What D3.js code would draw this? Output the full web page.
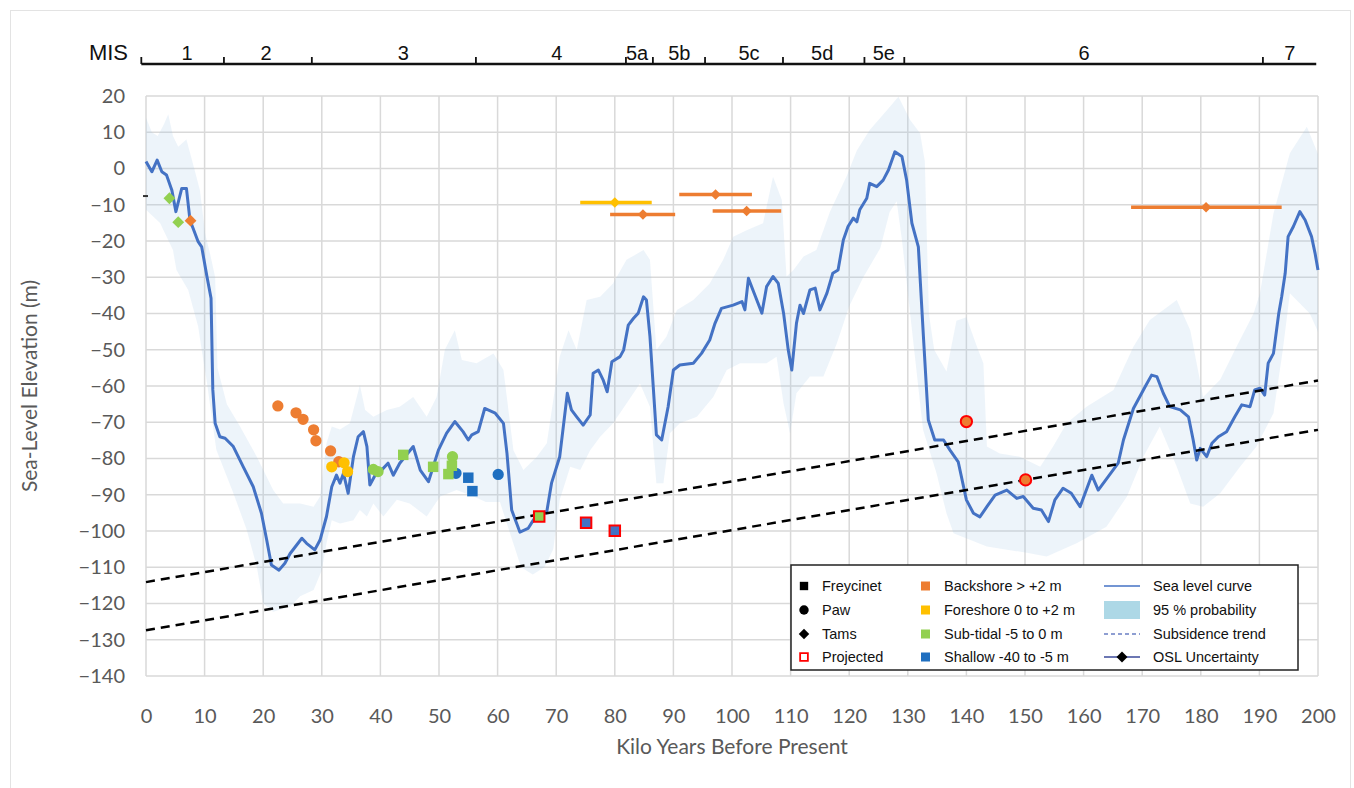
<!DOCTYPE html>
<html>
  <head>
    <meta charset="utf-8">
    <title>Sea-level curve</title>
    <style>
      body { margin: 0; background: #fff; }
      .tick text { font-family: Lato, 'Open Sans', sans-serif; font-size: 20px; fill: #595959; }
      .axis-title { font-family: Lato, 'Open Sans', sans-serif; font-size: 21px; fill: #595959; }
      .mis text, .legend text { font-family: 'Liberation Sans', Arial, sans-serif; fill: #111; }
    </style>
  </head>
  <body>
    <div class="chart"></div>
    <script src="https://cdnjs.cloudflare.com/ajax/libs/d3/7.8.5/d3.min.js"></script>
    <script>
      // ---- data (kyr BP, metres) ----
      var xTicks = d3.range(0, 201, 10);
      var yTicks = d3.range(-140, 21, 10);

      var misBounds = [-0.8, 13.3, 28.3, 56.3, 81.9, 86.5, 95.4, 108.7, 122.6, 129.4, 190.6];
      var misNames = ['1', '2', '3', '4', '5a', '5b', '5c', '5d', '5e', '6', '7'];
      var misLabelAt = [7.0, 20.5, 43.9, 70.1, 83.8, 91.0, 102.9, 115.4, 125.9, 160.1, 195.2];

      var seaLevel = [
        [0,1.9],[1,-0.9],[1.9,2.3],[2.7,-0.9],[3.5,-1.8],[4.4,-5.9],[5.1,-11.9],[6.1,-5.5],[6.9,-5.5],
        [7.5,-14.2],[8.9,-20.2],[9.5,-21.6],[10.4,-29.8],[11.1,-35.8],[11.4,-61],[11.8,-70.3],[12.6,-74],
        [13.5,-74.4],[14.9,-76.7],[16.6,-82.3],[18.3,-87.8],[19.7,-95.1],[20.6,-102.5],[21.4,-109.4],
        [22.7,-110.8],[23.7,-108.9],[24.6,-106.2],[26.6,-102],[27.4,-103.4],[28.8,-105.2],[29.7,-102.5],
        [30.8,-96],[31.7,-87.8],[32.5,-84.6],[33.1,-86.8],[33.7,-84.1],[34.5,-89.6],[35.4,-79.5],[36.2,-74],
        [37.1,-72.6],[37.7,-76.7],[38.2,-87.3],[39.1,-84.6],[40.2,-83.2],[41.3,-81.3],[42.2,-84.6],
        [43.3,-81.3],[45.6,-76.7],[46.8,-83.2],[48.2,-86.4],[49.9,-77.7],[51.3,-73],[52.7,-69.8],
        [54.1,-72.6],[55,-74.9],[55.6,-73.5],[56.7,-72.6],[57.8,-66.2],[59.6,-67.5],[61,-70.3],[61.6,-78.6],
        [62.4,-94.2],[63.8,-100.3],[65.2,-99.3],[66.1,-97],[66.7,-95.6],[68.4,-94.6],[69.2,-86.8],
        [70.6,-79.5],[71.9,-62],[72.6,-66.6],[73.5,-68.5],[74.6,-70.8],[75.8,-68],[76.3,-56.5],[77.2,-55.6],
        [78,-58.3],[78.7,-61.6],[79.5,-53.3],[80.9,-51.9],[81.5,-50.1],[82.3,-43.2],[83.2,-41.3],[84,-39.9],
        [84.9,-35.4],[85.4,-36.3],[86,-46.4],[87.1,-73.5],[88,-74.9],[89.1,-65.7],[90,-55.6],[91.1,-54.2],
        [93.4,-53.7],[94.8,-51],[96.2,-47.3],[97.1,-42.7],[98.2,-38.6],[100.2,-37.7],[101.7,-36.7],
        [102.2,-39],[102.8,-30.3],[103.9,-34.9],[105.1,-39.9],[105.9,-32.6],[107,-29.8],[107.9,-31.7],
        [108.8,-39.9],[109.6,-50.1],[110.2,-55.6],[111,-42.7],[111.6,-37.7],[112.2,-40],[113.3,-33.5],
        [114.2,-33],[115,-39],[116.2,-34.4],[117.2,-28.9],[118.1,-28],[119,-19.7],[119.8,-16],[120.7,-13.7],
        [121.3,-14.7],[121.8,-11.4],[123,-8.2],[123.5,-4.1],[124.7,-5],[125.8,-3.2],[126.7,-0.4],[127.8,4.6],
        [129,3.3],[129.8,-3.2],[130.7,-15.1],[131.8,-21.6],[132.7,-47.3],[133.5,-69.4],[134.6,-74.9],
        [136.1,-74.9],[137.2,-77.7],[138.6,-80.9],[140,-91.4],[141.2,-95.1],[142.3,-96.1],[143.5,-93.3],
        [144.9,-90.1],[146.9,-88.7],[148.6,-91],[149.7,-90.5],[151.4,-93.7],[152.8,-94.2],[154,-97.4],
        [155.1,-91.4],[156.5,-88.2],[157.9,-89.6],[159.4,-93.3],[161.4,-84.6],[162.5,-88.7],[164.2,-85],
        [165.9,-81.3],[166.8,-74.9],[168.5,-66.2],[170.5,-60.2],[171.6,-57],[172.5,-57.4],[173.6,-62],
        [174.7,-65.7],[176.5,-66.6],[177.9,-68.5],[178.7,-74.9],[179.3,-80.4],[179.9,-77.2],[181,-79.5],
        [181.9,-75.8],[183,-74],[184.4,-72.6],[185.8,-68.5],[187,-65.2],[188.4,-65.7],[189.2,-61.1],
        [190.1,-60.6],[190.9,-62.5],[191.5,-53.7],[192.4,-51],[193.3,-40],[193.8,-35.4],[194.4,-28.9],
        [194.9,-18.8],[195.8,-16],[196.9,-11.9],[197.8,-14.2],[198.9,-18.8],[199.5,-23.4],[200,-28]
      ];

      var bandUpper = [
        [0,14],[1,10],[2,9],[3,12],[3.8,15],[4.6,9],[5.5,6],[6.9,8],[8.4,-1],[9.2,-6],[10.1,-18],[11,-24],
        [11.8,-30],[12.2,-55],[13.8,-65],[16,-71],[18.9,-79.5],[21.7,-88.7],[23.4,-92.4],[26.3,-92.4],
        [28.6,-93.3],[29.7,-90.5],[30.8,-75.8],[31.7,-71.2],[33.1,-72],[34.8,-70.3],[36.5,-59.7],
        [37.4,-66.6],[38.8,-68.5],[41.1,-66.6],[43.3,-65.7],[45.6,-63],[47.9,-68.5],[49.6,-63],[51,-50],
        [52.7,-44.6],[53.9,-52.8],[56.4,-53.7],[59.3,-51],[61,-55.6],[62.7,-77.7],[64.4,-83.2],[66.7,-79.5],
        [68.4,-75.8],[70.6,-51.9],[72.1,-44.6],[73.5,-50.1],[75.2,-36.3],[77.5,-35.4],[79.7,-31.7],
        [82,-25.2],[84.9,-22.5],[86,-25.2],[87.1,-50.1],[88.8,-46.4],[90.6,-39],[93.4,-36.3],[96.2,-31.7],
        [98.5,-25.2],[100.2,-18.8],[102.5,-17],[105.3,-15.1],[107,-2.3],[108.5,-8.7],[109.3,-29.8],
        [110.5,-28],[112.2,-24.3],[114.4,-22.5],[116.7,-12],[119.6,-2],[121.3,5],[123.5,10.6],[126.4,16],
        [128.4,19.8],[130.4,13.4],[132.1,9.7],[132.9,2],[133.6,-40],[134.5,-50],[136.6,-56],[138.3,-42],
        [140,-41],[141.8,-49.2],[142.9,-53.7],[143.5,-76.7],[145.7,-78.6],[149.1,-79.5],[152.6,-82.3],
        [154.8,-76.7],[157.1,-70.3],[160.5,-65.7],[165.1,-61.1],[168.5,-49.2],[171.3,-41.8],[175.9,-36.3],
        [178.2,-44.6],[180.4,-63],[183.3,-58.3],[186.1,-49.2],[189,-40],[190.1,-34.4],[192.4,-12.4],
        [195.2,4.2],[198.1,11.5],[200,4]
      ];

      var bandLower = [
        [0,-11.4],[2.4,-15],[4.6,-22.5],[5.2,-28],[7.2,-33.5],[8.9,-43.6],[9.5,-50],[10.4,-59],[12,-77.6],
        [14.9,-89.5],[17.2,-99.7],[18.9,-109.8],[20,-120],[21.7,-122.3],[24.6,-120.9],[26.3,-118],
        [28.6,-116.3],[30,-110.8],[30.8,-103.4],[31.7,-97],[33.1,-97.9],[35.4,-97],[36.5,-94.2],[37.7,-96],
        [38.8,-92.4],[40.5,-96],[42.8,-91.4],[45,-92.4],[47.9,-96],[50.2,-90.5],[53,-88.7],[55.9,-90.5],
        [58,-92],[60.4,-92],[62,-100],[64,-110],[66,-112],[68,-110],[69.5,-105],[70.6,-91.4],[72.4,-82.3],
        [74.1,-83.2],[75.8,-77.7],[77.5,-74],[79.7,-70.3],[82,-64.8],[84.3,-59.3],[86,-65.7],[87.1,-86.8],
        [88.3,-86.8],[89.4,-73],[91.1,-70.3],[94,-68.5],[96.8,-63],[99.1,-55.6],[101.4,-53.7],[105.9,-53.7],
        [107.6,-51.9],[108.8,-64.8],[109.9,-73],[111,-62],[113.3,-57.4],[115.6,-57.4],[117.9,-48.2],
        [120,-38],[122.4,-30],[125.3,-22],[126.9,-12],[128.1,-9],[129,-19.7],[130.4,-40],[132.6,-72.1],
        [134.9,-84.1],[136.6,-95.1],[137.8,-100.6],[143.5,-104.3],[150.3,-106],[153.7,-107],[158.8,-103.4],
        [163.9,-98.8],[167.4,-90.5],[170.2,-79.5],[173,-71.2],[175.9,-82.3],[178.2,-92.4],[180.4,-93.3],
        [183.3,-89.6],[186.7,-82.3],[189.5,-76.7],[192.4,-67.5],[194,-50],[195.2,-34.4],[198.6,-40],[200,-45]
      ];

      // subsidence trends, [kyr, m] end points
      var trendUpper = [[0, -114.1], [200, -58.5]];
      var trendLower = [[0, -127.4], [200, -72.1]];

      // Paw (circles)
      var pawBackshore = [[22.5,-65.5],[25.6,-67.4],[26.8,-69.2],[28.6,-72.1],[29,-75.1],[31.5,-77.9],[32.9,-80.9]];
      var pawForeshore = [[31.7,-82.3],[33.8,-81.2],[34.4,-83.6]];
      var pawShallow = [[52.9,-84.1],[60.1,-84.4]];
      var pawSubtidal = [[38.8,-83],[39.6,-83.6],[52.3,-79.5]];
      var pawProjected = [[140,-69.8],[150.1,-85.9]];
      // Freycinet (squares)
      var freySubtidal = [[43.9,-79],[49,-82.3],[51.6,-84.3],[52.2,-82]];
      var freyShallow = [[55,-85.3],[55.7,-89]];
      var freyProjSubtidal = [[67.1,-96]];
      var freyProjShallow = [[75.1,-97.7],[80,-99.9]];
      // Tams (diamonds)
      var tamsSubtidal = [[4,-8.2],[5.5,-14.8]];
      var tamsBackshore = [[7.6,-14.4]];

      // OSL ages with uncertainty: [from, to, age, m]
      var oslForeshore = [[74.1, 86.3, 80, -9.4]];
      var oslBackshore = [[79.2, 90.3, 84.8, -12.7], [91, 103.4, 97.2, -7.2], [96.7, 108.4, 102.5, -11.7], [168.1, 193.8, 180.9, -10.7]];

      var colors = {backshore: '#ed7d31', foreshore: '#ffc000', subtidal: '#92d050', shallow: '#1f6fc0',
                    curve: '#4472c4', projected: '#ff0000'};

      // ---- layout ----
      var W = 1354, H = 788;
      var x = d3.scaleLinear().domain([0, 200]).range([146, 1318]);
      var y = d3.scaleLinear().domain([-140, 20]).range([676, 96]);

      var svg = d3.select('.chart').append('svg')
        .attr('width', W).attr('height', H);

      svg.append('rect')
        .attr('x', 10.5).attr('y', 10.5).attr('width', W - 14).attr('height', H)
        .attr('fill', 'none').attr('stroke', '#e3e3e3');

      // grid
      var grid = svg.append('g').attr('class', 'grid');
      grid.selectAll('.vg').data(xTicks).enter().append('line')
        .attr('x1', function(d) { return x(d); }).attr('x2', function(d) { return x(d); })
        .attr('y1', y(20)).attr('y2', y(-140))
        .attr('stroke', '#d9d9d9').attr('stroke-width', 1.5);
      grid.selectAll('.hg').data(yTicks).enter().append('line')
        .attr('y1', function(d) { return y(d); }).attr('y2', function(d) { return y(d); })
        .attr('x1', x(0)).attr('x2', x(200))
        .attr('stroke', '#d9d9d9').attr('stroke-width', 1.5);

      var line = d3.line()
        .x(function(d) { return x(d[0]); })
        .y(function(d) { return y(d[1]); });

      // 95 % band
      svg.append('path')
        .attr('d', line(bandUpper.concat(bandLower.slice().reverse())) + 'Z')
        .attr('fill', '#9dc3e6').attr('fill-opacity', 0.19);

      // sea-level curve
      svg.append('path')
        .attr('d', line(seaLevel))
        .attr('fill', 'none').attr('stroke', colors.curve)
        .attr('stroke-width', 3).attr('stroke-linejoin', 'round');

      // subsidence trends
      svg.selectAll('.trend').data([trendUpper, trendLower]).enter().append('path')
        .attr('d', line)
        .attr('fill', 'none').attr('stroke', '#000')
        .attr('stroke-width', 2.5).attr('stroke-dasharray', '9,6');

      // axes
      var yAxis = d3.axisLeft(y).tickValues(yTicks).tickSize(0).tickPadding(21);
      svg.append('g').attr('transform', 'translate(' + x(0) + ',0)').call(yAxis)
        .call(function(g) { g.select('.domain').remove(); });

      var xAxis = d3.axisBottom(x).tickValues(xTicks).tickSize(0).tickPadding(33);
      svg.append('g').attr('transform', 'translate(0,' + y(-140) + ')').call(xAxis)
        .call(function(g) { g.select('.domain').remove(); });

      svg.append('text').attr('class', 'axis-title')
        .attr('x', (x(0) + x(200)) / 2).attr('y', 754)
        .attr('text-anchor', 'middle').text('Kilo Years Before Present');
      svg.append('text').attr('class', 'axis-title')
        .attr('transform', 'translate(37,' + (y(20) + y(-140)) / 2 + ') rotate(-90)')
        .attr('text-anchor', 'middle').text('Sea-Level Elevation (m)');

      // symbols
      var circle = d3.symbol().type(d3.symbolCircle).size(100);
      var square = d3.symbol().type(d3.symbolSquare).size(110);
      var diamond = d3.symbol().type(d3.symbolSquare).size(70);

      function drawPoints(data, sym, fill, rot, stroke) {
        svg.append('g').selectAll('path').data(data).enter().append('path')
          .attr('d', sym)
          .attr('transform', function(d) {
            return 'translate(' + x(d[0]) + ',' + y(d[1]) + ')' + (rot ? ' rotate(45)' : '');
          })
          .attr('fill', fill)
          .attr('stroke', stroke || 'none')
          .attr('stroke-width', stroke ? 2 : 0);
      }

      drawPoints(pawShallow, circle, colors.shallow);
      drawPoints(pawBackshore, circle, colors.backshore);
      drawPoints(pawForeshore, circle, colors.foreshore);
      drawPoints(pawSubtidal, circle, colors.subtidal);
      drawPoints(freySubtidal, square, colors.subtidal);
      drawPoints(freyShallow, square, colors.shallow);
      drawPoints(tamsSubtidal, diamond, colors.subtidal, true);
      drawPoints(tamsBackshore, diamond, colors.backshore, true);
      drawPoints(freyProjSubtidal, square, colors.subtidal, false, colors.projected);
      drawPoints(freyProjShallow, square, colors.curve, false, colors.projected);
      drawPoints(pawProjected, circle, colors.backshore, false, colors.projected);

      // OSL uncertainty bars
      function drawOsl(data, col) {
        var g = svg.append('g');
        g.selectAll('line').data(data).enter().append('line')
          .attr('x1', function(d) { return x(d[0]); }).attr('x2', function(d) { return x(d[1]); })
          .attr('y1', function(d) { return y(d[3]); }).attr('y2', function(d) { return y(d[3]); })
          .attr('stroke', col).attr('stroke-width', 3.5);
        g.selectAll('path').data(data).enter().append('path')
          .attr('d', d3.symbol().type(d3.symbolSquare).size(55))
          .attr('transform', function(d) { return 'translate(' + x(d[2]) + ',' + y(d[3]) + ') rotate(45)'; })
          .attr('fill', col);
      }
      drawOsl(oslForeshore, colors.foreshore);
      drawOsl(oslBackshore, colors.backshore);

      // stray OSL marker at the axis
      svg.append('line')
        .attr('x1', x(0) - 3).attr('x2', x(0) + 2).attr('y1', y(-7.6)).attr('y2', y(-7.6))
        .attr('stroke', '#333').attr('stroke-width', 2);

      // MIS stages
      var mis = svg.append('g').attr('class', 'mis');
      var misY = 64;
      mis.append('line')
        .attr('x1', x(misBounds[0])).attr('x2', x(199.7)).attr('y1', misY).attr('y2', misY)
        .attr('stroke', '#111').attr('stroke-width', 2.5);
      mis.selectAll('.mt').data(misBounds).enter().append('line')
        .attr('x1', function(d) { return x(d); }).attr('x2', function(d) { return x(d); })
        .attr('y1', misY).attr('y2', misY - 7)
        .attr('stroke', '#111').attr('stroke-width', 1.8);
      mis.selectAll('.ml').data(misNames).enter().append('text')
        .attr('x', function(d, i) { return x(misLabelAt[i]); }).attr('y', misY - 4)
        .attr('text-anchor', 'middle').attr('font-size', 20)
        .text(function(d) { return d; });
      mis.append('text').attr('x', 128).attr('y', misY - 4)
        .attr('text-anchor', 'end').attr('font-size', 22).text('MIS');

      // legend
      var lg = svg.append('g').attr('class', 'legend');
      lg.append('rect').attr('x', 791).attr('y', 565).attr('width', 507).attr('height', 105)
        .attr('fill', '#fff').attr('stroke', '#222').attr('stroke-width', 1.5);
      var rows = [586, 610, 634, 657];
      var col1 = [['Freycinet', d3.symbolSquare, '#000', 70, false, null],
                  ['Paw', d3.symbolCircle, '#000', 70, false, null],
                  ['Tams', d3.symbolSquare, '#000', 55, true, null],
                  ['Projected', d3.symbolSquare, '#fff', 60, false, colors.projected]];
      var col2 = [['Backshore > +2 m', colors.backshore], ['Foreshore 0 to +2 m', colors.foreshore],
                  ['Sub-tidal -5 to 0 m', colors.subtidal], ['Shallow -40 to -5 m', colors.shallow]];
      col1.forEach(function(c, i) {
        lg.append('path')
          .attr('d', d3.symbol().type(c[1]).size(c[3]))
          .attr('transform', 'translate(804,' + rows[i] + ')' + (c[4] ? ' rotate(45)' : ''))
          .attr('fill', c[2]).attr('stroke', c[5] || 'none').attr('stroke-width', 1.8);
        lg.append('text').attr('x', 822).attr('y', rows[i]).attr('dy', '0.36em')
          .attr('font-size', 14.5).text(c[0]);
      });
      col2.forEach(function(c, i) {
        lg.append('rect').attr('x', 921).attr('y', rows[i] - 4.5).attr('width', 9).attr('height', 9)
          .attr('fill', c[1]);
        lg.append('text').attr('x', 944).attr('y', rows[i]).attr('dy', '0.36em')
          .attr('font-size', 14.5).text(c[0]);
      });
      lg.append('line').attr('x1', 1104).attr('x2', 1140).attr('y1', rows[0]).attr('y2', rows[0])
        .attr('stroke', colors.curve).attr('stroke-width', 1.5);
      lg.append('rect').attr('x', 1104).attr('y', rows[1] - 9).attr('width', 36).attr('height', 18)
        .attr('fill', '#add8e6');
      lg.append('line').attr('x1', 1104).attr('x2', 1140).attr('y1', rows[2]).attr('y2', rows[2])
        .attr('stroke', '#6a7fc4').attr('stroke-width', 1.5).attr('stroke-dasharray', '4,3');
      lg.append('line').attr('x1', 1104).attr('x2', 1140).attr('y1', rows[3]).attr('y2', rows[3])
        .attr('stroke', '#3b4a9a').attr('stroke-width', 1.5);
      lg.append('path').attr('d', d3.symbol().type(d3.symbolSquare).size(60))
        .attr('transform', 'translate(1122,' + rows[3] + ') rotate(45)').attr('fill', '#000');
      ['Sea level curve', '95 % probability', 'Subsidence trend', 'OSL Uncertainty'].forEach(function(t, i) {
        lg.append('text').attr('x', 1153).attr('y', rows[i]).attr('dy', '0.36em')
          .attr('font-size', 14.5).text(t);
      });
    </script>
  </body>
</html>
